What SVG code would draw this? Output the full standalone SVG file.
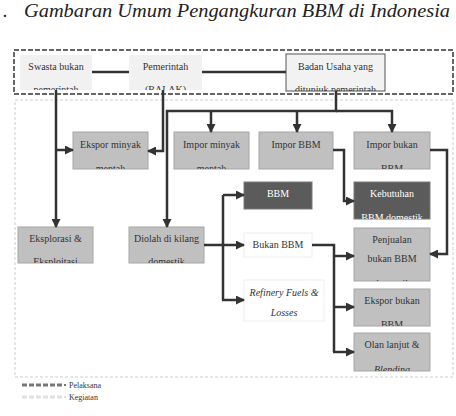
<svg xmlns="http://www.w3.org/2000/svg" width="456" height="416" viewBox="0 0 456 416" font-family="'Liberation Serif', 'DejaVu Serif', serif">
<defs>
<marker id="ah" markerUnits="userSpaceOnUse" markerWidth="9" markerHeight="9" refX="8" refY="4.5" orient="auto"><path d="M0,0 L9,4.5 L0,9 z" fill="#333"/></marker>
<clipPath id="c-swasta"><rect x="20" y="55" width="72" height="35"/></clipPath>
<clipPath id="c-pem"><rect x="129" y="55" width="73" height="35"/></clipPath>
<clipPath id="c-badan"><rect x="286" y="54" width="99" height="37"/></clipPath>
<clipPath id="c-r1a"><rect x="73" y="132" width="75" height="37"/></clipPath>
<clipPath id="c-r1b"><rect x="174" y="132" width="75" height="37"/></clipPath>
<clipPath id="c-r1d"><rect x="354" y="132" width="76" height="37"/></clipPath>
<clipPath id="c-keb"><rect x="354" y="182" width="76" height="37"/></clipPath>
<clipPath id="c-eks"><rect x="18" y="227" width="75" height="36"/></clipPath>
<clipPath id="c-dio"><rect x="129" y="227" width="75" height="36"/></clipPath>
<clipPath id="c-pen"><rect x="354" y="228" width="76" height="53"/></clipPath>
<clipPath id="c-ekb"><rect x="354" y="289" width="76" height="37"/></clipPath>
<clipPath id="c-ola"><rect x="354" y="333" width="76" height="38"/></clipPath>
</defs>
<style>
text{font-family:'Liberation Serif','DejaVu Serif',serif;font-size:10px;fill:#333;text-anchor:middle}
.light{fill:#f1f1f1}
.gray{fill:#c0c0c0;stroke:#a6a6a6;stroke-width:1}
.dark{fill:#5b5b5b;stroke:#7a7a7a;stroke-width:1}
.white{fill:#fff;stroke:#eeeeee;stroke-width:1}
.wt{fill:#fff}
.it{font-style:italic}
.conn path{fill:none;stroke:#333;stroke-width:2.5}
.lg{font-size:8px;text-anchor:start}
.title{font-size:19px;font-style:italic;text-anchor:start;fill:#222}
</style>
<text class="title" x="3" y="17">.</text>
<text class="title" x="24" y="17" textLength="426" lengthAdjust="spacingAndGlyphs">Gambaran Umum Pengangkuran BBM di Indonesia</text>

<rect x="14" y="50" width="439" height="44" fill="none" stroke="#666" stroke-width="2" stroke-dasharray="5,2"/>
<rect x="15" y="100" width="438" height="277" fill="none" stroke="#e6e6e6" stroke-width="2" stroke-dasharray="3,2"/>

<g id="swasta"><rect class="light" x="20" y="55" width="72" height="35"/><g clip-path="url(#c-swasta)"><text x="56" y="70">Swasta bukan</text><text x="56" y="93">pemerintah</text></g></g>
<g id="pemerintah"><rect class="light" x="129" y="55" width="73" height="35"/><g clip-path="url(#c-pem)"><text x="165.5" y="70">Pemerintah</text><text x="165.5" y="93">(BALAK)</text></g></g>
<g id="badan"><rect x="286" y="54" width="99" height="37" fill="#f2f2f2" stroke="#555" stroke-width="1"/><g clip-path="url(#c-badan)"><text x="335.5" y="70">Badan Usaha yang</text><text x="335.5" y="93">ditunjuk pemerintah</text></g></g>

<g id="ekspor-minyak"><rect class="gray" x="73" y="132" width="75" height="37"/><g clip-path="url(#c-r1a)"><text x="110.5" y="148">Ekspor minyak</text><text x="110.5" y="172">mentah</text></g></g>
<g id="impor-minyak"><rect class="gray" x="174" y="132" width="75" height="37"/><g clip-path="url(#c-r1b)"><text x="211.5" y="148">Impor minyak</text><text x="211.5" y="172">mentah</text></g></g>
<g id="impor-bbm"><rect class="gray" x="259" y="132" width="74" height="37"/><text x="296" y="148">Impor BBM</text></g>
<g id="impor-bukan"><rect class="gray" x="354" y="132" width="76" height="37"/><g clip-path="url(#c-r1d)"><text x="392" y="148">Impor bukan</text><text x="392" y="172">BBM</text></g></g>

<g id="bbm"><rect class="dark" x="244" y="182" width="68" height="27"/><text class="wt" x="278" y="197">BBM</text></g>
<g id="kebutuhan"><rect class="dark" x="354" y="182" width="76" height="37"/><g clip-path="url(#c-keb)"><text class="wt" x="392" y="197">Kebutuhan</text><text class="wt" x="392" y="221">BBM domestik</text></g></g>
<g id="bukan-bbm"><rect class="white" x="244" y="233" width="68" height="24"/><text x="278" y="248">Bukan BBM</text></g>
<g id="refinery"><rect class="white" x="244" y="280" width="80" height="41"/><text class="it" x="284" y="296">Refinery Fuels &amp;</text><text class="it" x="284" y="316">Losses</text></g>

<g id="eksplorasi"><rect class="gray" x="18" y="227" width="75" height="36"/><g clip-path="url(#c-eks)"><text x="55.5" y="242">Eksplorasi &amp;</text><text x="55.5" y="265">Eksploitasi</text></g></g>
<g id="diolah"><rect class="gray" x="129" y="227" width="75" height="36"/><g clip-path="url(#c-dio)"><text x="166.5" y="242">Diolah di kilang</text><text x="166.5" y="265">domestik</text></g></g>

<g id="penjualan"><rect class="gray" x="354" y="228" width="76" height="53"/><g clip-path="url(#c-pen)"><text x="392" y="243">Penjualan</text><text x="392" y="262">bukan BBM</text><text x="392" y="287">domestik</text></g></g>
<g id="ekspor-bukan"><rect class="gray" x="354" y="289" width="76" height="37"/><g clip-path="url(#c-ekb)"><text x="392" y="304">Ekspor bukan</text><text x="392" y="328">BBM</text></g></g>
<g id="olah-lanjut"><rect class="gray" x="354" y="333" width="76" height="38"/><g clip-path="url(#c-ola)"><text x="392" y="348">Olan lanjut &amp;</text><text class="it" x="392" y="373">Blending</text></g></g>

<g class="conn" id="connectors">
<path d="M92,72 H129"/>
<path d="M202,72 H286"/>
<path d="M56,90 V227" marker-end="url(#ah)"/>
<path d="M56,150 H73" marker-end="url(#ah)"/>
<path d="M163,90 V151 H148" marker-end="url(#ah)"/>
<path d="M336,91 V111 H167 V227" marker-end="url(#ah)"/>
<path d="M211,111 V132" marker-end="url(#ah)"/>
<path d="M297,111 V132" marker-end="url(#ah)"/>
<path d="M336,111 H392 V132" marker-end="url(#ah)"/>
<path d="M333,150 H344 V201 H354" marker-end="url(#ah)"/>
<path d="M430,150 H447 V254 H430" marker-end="url(#ah)"/>
<path d="M204,245 H244" marker-end="url(#ah)"/>
<path d="M223,195 V300"/>
<path d="M223,195 H244" marker-end="url(#ah)"/>
<path d="M222,300 H244" marker-end="url(#ah)"/>
<path d="M312,245 H334 V352"/>
<path d="M334,256 H354" marker-end="url(#ah)"/>
<path d="M334,307 H354" marker-end="url(#ah)"/>
<path d="M333,352 H354" marker-end="url(#ah)"/>
</g>
<g id="legend">
<path d="M22,385 H62" stroke="#777" stroke-width="3" stroke-dasharray="5,2"/><path d="M64,385 H66" stroke="#777" stroke-width="2"/>
<text class="lg" x="69" y="388">Pelaksana</text>
<path d="M22,397 H62" stroke="#e0e0e0" stroke-width="3" stroke-dasharray="5,2"/><path d="M64,397 H66" stroke="#e0e0e0" stroke-width="2"/>
<text class="lg" x="69" y="400">Kegiatan</text>
</g>
</svg>
